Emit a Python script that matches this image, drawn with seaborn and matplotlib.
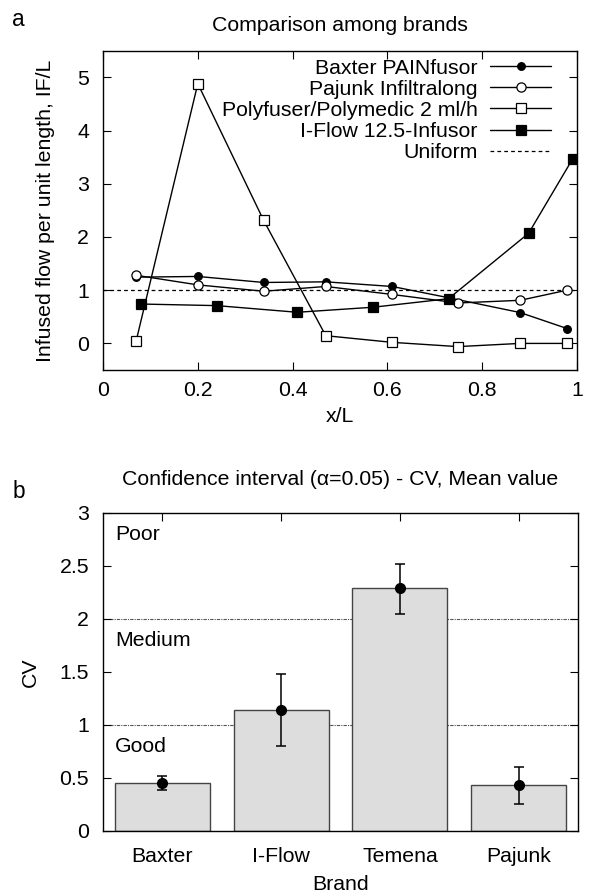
import matplotlib
matplotlib.use("Agg")
import matplotlib.pyplot as plt
import seaborn as sns
import numpy as np
import pandas as pd

# ---------------- data: panel a ----------------
baxter_x = [0.07, 0.20, 0.339, 0.47, 0.61, 0.731, 0.88, 0.979]
baxter_y = [1.245, 1.258, 1.145, 1.157, 1.07, 0.855, 0.58, 0.28]
pajunk_x = [0.07, 0.20, 0.339, 0.47, 0.61, 0.749, 0.88, 0.979]
pajunk_y = [1.28, 1.10, 0.98, 1.07, 0.92, 0.76, 0.81, 1.00]
poly_x = [0.07, 0.20, 0.339, 0.47, 0.61, 0.749, 0.88, 0.979]
poly_y = [0.05, 4.88, 2.31, 0.145, 0.02, -0.06, 0.0, 0.0]
iflow_x = [0.08, 0.24, 0.41, 0.57, 0.729, 0.898, 0.991]
iflow_y = [0.74, 0.71, 0.585, 0.68, 0.84, 2.07, 3.47]
series_names = ["Baxter PAINfusor", "Pajunk Infiltralong",
                "Polyfuser/Polymedic 2 ml/h", "I-Flow 12.5-Infusor"]
uniform_level = 1.0
xticks_a = [0, 0.2, 0.4, 0.6, 0.8, 1.0]
xticklabels_a = ["0", "0.2", "0.4", "0.6", "0.8", "1"]
yticks_a = [0, 1, 2, 3, 4, 5]

# ---------------- data: panel b ----------------
brands = ["Baxter", "I-Flow", "Temena", "Pajunk"]
cv_mean = [0.446, 1.138, 2.29, 0.427]
cv_low = [0.38, 0.80, 2.05, 0.253]
cv_high = [0.515, 1.476, 2.52, 0.604]
zone_lines = [1.0, 2.0]
zone_labels = ["Good", "Medium", "Poor"]
zone_label_y = [0.79, 1.795, 2.8]
yticks_b = [0, 0.5, 1, 1.5, 2, 2.5, 3]
yticklabels_b = ["0", "0.5", "1", "1.5", "2", "2.5", "3"]

sns.set_theme(style="white")
plt.rcParams["font.family"] = ["Liberation Sans", "DejaVu Sans"]
plt.rcParams["text.color"] = "black"
plt.rcParams["axes.labelcolor"] = "black"
plt.rcParams["axes.titlecolor"] = "black"
FS = 15.3

fig = plt.figure(figsize=(5.91, 8.94), dpi=100)
ax1 = fig.add_axes([0.1743, 0.5861, 0.9763 - 0.1743, 0.9433 - 0.5861])
ax2 = fig.add_axes([0.1743, 0.0710, 0.978 - 0.1743, 0.4262 - 0.0710])

# ---------------- panel a ----------------
styles = [
    dict(marker="o", markerfacecolor="black", markersize=5.5),
    dict(marker="o", markerfacecolor="white", markersize=6.6),
    dict(marker="s", markerfacecolor="white", markersize=6.6),
    dict(marker="s", markerfacecolor="black", markersize=6.6),
]
xs = [baxter_x, pajunk_x, poly_x, iflow_x]
ys = [baxter_y, pajunk_y, poly_y, iflow_y]
for name, x, y, st in zip(series_names, xs, ys, styles):
    sns.lineplot(x=x, y=y, ax=ax1, color="black", lw=1.0, sort=False,
                 markeredgecolor="black", markeredgewidth=0.9,
                 label=name, **st)
ax1.axhline(uniform_level, color="black", lw=0.9, ls=(0, (3, 2.5)), label="Uniform", zorder=1)

ax1.set_xlim(0, 1)
ax1.set_ylim(-0.5, 5.5)
ax1.set_xticks(xticks_a)
ax1.set_xticklabels(xticklabels_a)
ax1.set_yticks(yticks_a)
ax1.set_xlabel("x/L", fontsize=FS, labelpad=5)
ax1.set_ylabel("Infused flow per unit length, IF/L", fontsize=FS, labelpad=16)
ax1.set_title("Comparison among brands", fontsize=FS, pad=14)

leg = ax1.legend(loc="upper right", markerfirst=False, frameon=False,
                 fontsize=FS, handlelength=2.85, handletextpad=0.6,
                 labelspacing=0.1, borderaxespad=0.0, borderpad=0.0,
                 bbox_to_anchor=(0.945, 0.975))

# ---------------- panel b ----------------
for lvl in zone_lines:
    ax2.axhline(lvl, color="#555555", lw=0.8, ls=(0, (3, 1, 1, 1)), zorder=0)
df = pd.DataFrame({"Brand": brands, "CV": cv_mean})
sns.barplot(data=df, x="Brand", y="CV", ax=ax2, color="#dddddd",
            edgecolor="#444444", linewidth=1.0, width=0.8, errorbar=None,
            saturation=1, zorder=2)
for b in ax2.patches:
    b.set_facecolor("#dddddd")
pos = np.arange(len(brands))
err = [np.array(cv_mean) - np.array(cv_low), np.array(cv_high) - np.array(cv_mean)]
ax2.errorbar(pos, cv_mean, yerr=err, fmt="o", color="black", ms=7,
             elinewidth=1.1, capsize=3.5, capthick=1.1, zorder=4)
for lab, yy in zip(zone_labels, zone_label_y):
    ax2.text(-0.4, yy, lab, fontsize=FS, va="center", ha="left", color="black")

ax2.set_xlim(-0.5, len(brands) - 0.5)
ax2.set_ylim(0, 3)
ax2.set_yticks(yticks_b)
ax2.set_yticklabels(yticklabels_b)
ax2.set_xlabel("Brand", fontsize=FS, labelpad=6)
ax2.set_ylabel("CV", fontsize=FS, labelpad=14)
ax2.set_title("Confidence interval (\u03b1=0.05) - CV, Mean value", fontsize=FS, pad=20)

for ax in (ax1, ax2):
    for s in ax.spines.values():
        s.set_visible(True)
        s.set_color("black")
        s.set_linewidth(1.0)
    ax.tick_params(direction="in", length=6, width=0.8, top=True, right=True,
                   bottom=True, left=True, labelsize=FS, colors="black")
    ax.tick_params(axis="y", pad=10)
    ax.grid(False)
ax1.tick_params(axis="x", pad=8)
ax2.tick_params(axis="x", pad=12)

fig.text(18 / 591, 1 - 19 / 894, "a", fontsize=FS + 1, ha="center", va="center")
fig.text(19 / 591, 1 - 492 / 894, "b", fontsize=FS + 1, ha="center", va="center")

fig.savefig("out.png", dpi=100, facecolor="white")
